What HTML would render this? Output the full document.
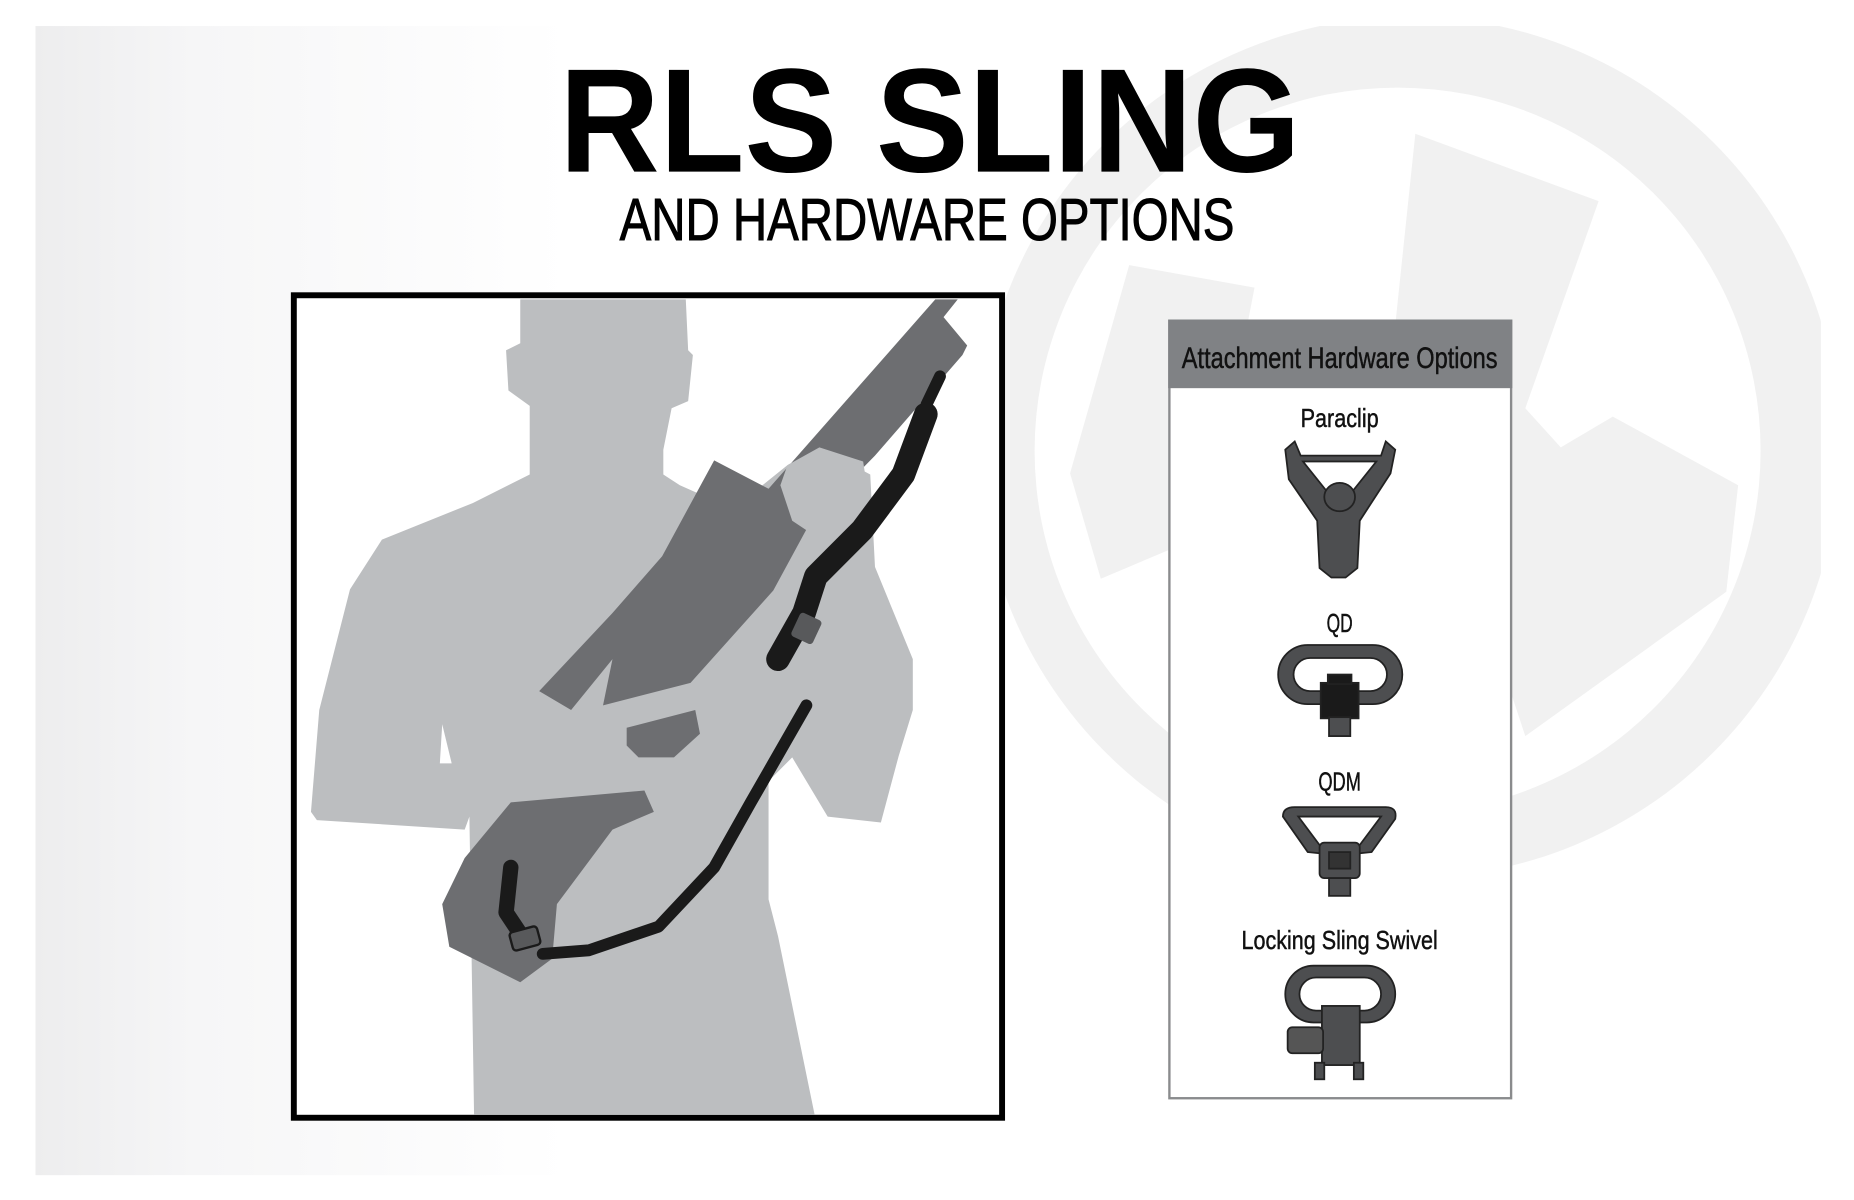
<!DOCTYPE html>
<html><head><meta charset="utf-8"><style>html,body{margin:0;padding:0;background:#fff}svg{display:block}</style></head>
<body>
<svg width="1854" height="1200" viewBox="0 0 1568 1014" preserveAspectRatio="none" xmlns="http://www.w3.org/2000/svg">
<defs>
<linearGradient id="bg" x1="0" x2="1" y1="0" y2="0">
<stop offset="0" stop-color="#ededee"/><stop offset="0.3" stop-color="#f6f6f7"/><stop offset="1" stop-color="#ffffff"/>
</linearGradient>
<clipPath id="pc"><rect x="30" y="22" width="1510" height="971"/></clipPath>
<clipPath id="bx"><rect x="250" y="251" width="596" height="691"/></clipPath>
</defs>
<rect x="30" y="22" width="450" height="971" fill="url(#bg)"/>
<g clip-path="url(#pc)" fill="#f1f1f1">
<circle cx="1192" cy="378" r="364"/>
<circle cx="1182" cy="381" r="307" fill="#fff"/>
<polygon points="955,224 1061,243 1050,300 1211,371 931,489 905,400"/>
<polygon points="1197,113 1352,170 1290,345 1320,378 1364,352 1470,410 1460,500 1290,622 1215,395 1170,370"/>
</g>
<text x="473" y="145" font-family="Liberation Sans Narrow, Liberation Sans, sans-serif" font-weight="bold" font-size="125" textLength="627" lengthAdjust="spacingAndGlyphs">RLS SLING</text>
<text x="524" y="203" font-family="Liberation Sans, sans-serif" font-size="50" stroke="#000" stroke-width="0.8" textLength="520" lengthAdjust="spacingAndGlyphs">AND HARDWARE OPTIONS</text>

<rect x="248.5" y="249.5" width="599" height="695" fill="#fff" stroke="#000" stroke-width="5"/>
<g clip-path="url(#bx)">
<path fill="#bcbec0" d="M440,253 L580,253 L582,296 L586,300 L582,339 L568,345 L561,380 L561,401 L575,410 L620,430 L666,393 L693,378 L736,401 L740,479 L772,557 L772,600 L760,639 L745,695 L700,690 L670,640 L650,660 L650,760 L658,791 L690,947 L401,947 L397,690 L393,701 L268,693 L263,686 L270,600 L296,498 L323,456 L400,425 L448,401 L448,343 L430,330 L428,296 L440,290 Z"/>
<path fill="#fff" d="M374,612 L382,645 L372,645 Z"/>
<path fill="#6d6e71" d="M791,253 L810,253 L798,268 L818,292 L814,300 L740,385 L686,440 L654,499 L584,577 L510,596 L518,557 L483,600 L456,584 L518,518 L560,470 L604,389 L650,413 Z"/>
<path fill="#bcbec0" d="M666,393 L693,378 L730,390 L736,430 L700,460 L670,440 L660,410 Z"/>
<path fill="#6d6e71" d="M530,615 L588,600 L592,620 L570,640 L540,640 L530,630 Z"/>
<path fill="#6d6e71" d="M432,678 L545,668 L553,686 L518,701 L471,764 L467,810 L440,830 L380,800 L374,764 L393,725 Z"/>
</g>
<g clip-path="url(#bx)" fill="none" stroke="#1a1a1a" stroke-linecap="round" stroke-linejoin="round">
<path d="M795,318 L783,343" stroke-width="10"/>
<path d="M783,350 L764,401 L729,448 L690,487 L680,518 L658,557" stroke-width="20"/>
<path d="M682,596 L635,678 L604,733 L557,783 L498,803 L459,806" stroke-width="10"/>
<path d="M444,795 L428,771 L432,733" stroke-width="13"/>
</g>
<rect x="672" y="520" width="20" height="22" rx="3" fill="#58595b" transform="rotate(25 682 531)"/>
<rect x="432" y="785" width="24" height="16" rx="3" fill="#58595b" stroke="#1a1a1a" stroke-width="2" transform="rotate(-15 444 793)"/>

<rect x="989" y="271" width="289" height="657" fill="#fff" stroke="#8a8b8d" stroke-width="2"/>
<rect x="988" y="270" width="291" height="58" fill="#808285"/>
<g font-family="Liberation Sans Narrow, Liberation Sans, sans-serif" fill="#111" stroke="#111" stroke-width="0.4" text-anchor="middle">
<text x="1133" y="311" font-size="25" textLength="267" lengthAdjust="spacingAndGlyphs">Attachment Hardware Options</text>
<text x="1133" y="361" font-size="22" textLength="66" lengthAdjust="spacingAndGlyphs">Paraclip</text>
<text x="1133" y="534" font-size="22" textLength="22" lengthAdjust="spacingAndGlyphs">QD</text>
<text x="1133" y="668" font-size="22" textLength="36" lengthAdjust="spacingAndGlyphs">QDM</text>
<text x="1133" y="802" font-size="22" textLength="166" lengthAdjust="spacingAndGlyphs">Locking Sling Swivel</text>
</g>
<g fill="#4d4e50" stroke="#222" stroke-width="1.5">
<path d="M1087,380 L1095,373 L1100,385 L1168,385 L1172,373 L1180,380 L1176,400 L1150,440 L1148,480 L1138,488 L1126,488 L1116,480 L1114,440 L1090,405 Z"/>
<path d="M1102,390 L1164,390 L1140,420 L1126,420 Z" fill="#fff"/>
<ellipse cx="1133" cy="420" rx="13" ry="12"/>
<rect x="1081" y="545" width="105" height="50" rx="25"/>
<rect x="1094" y="556" width="79" height="28" rx="14" fill="#fff"/>
<rect x="1117" y="577" width="32" height="30" fill="#1a1a1a"/>
<rect x="1123" y="570" width="20" height="8" fill="#1a1a1a"/>
<rect x="1124" y="606" width="18" height="16"/>
<path d="M1085,690 Q1085,682 1095,682 L1172,682 Q1182,682 1180,692 L1160,720 L1140,722 L1126,722 L1106,720 Z"/>
<path d="M1098,690 L1168,690 L1150,714 L1116,714 Z" fill="#fff"/>
<rect x="1116" y="712" width="34" height="30" rx="4"/>
<rect x="1124" y="720" width="18" height="14" fill="#333"/>
<rect x="1124" y="742" width="18" height="15"/>
<rect x="1087" y="816" width="93" height="48" rx="24"/>
<rect x="1099" y="826" width="69" height="28" rx="14" fill="#fff"/>
<rect x="1118" y="850" width="32" height="50"/>
<rect x="1089" y="868" width="30" height="22" rx="4" fill="#555"/>
<rect x="1112" y="898" width="8" height="14"/>
<rect x="1145" y="898" width="8" height="14"/>
</g>
</svg>
</body></html>
